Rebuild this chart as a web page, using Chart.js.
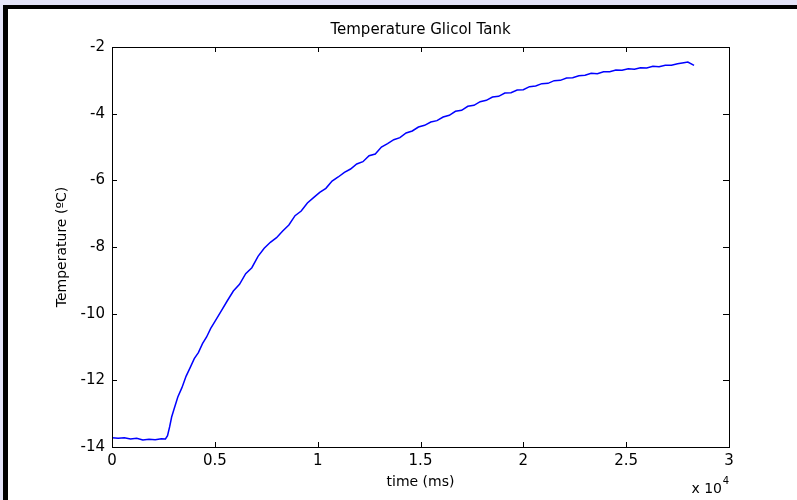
<!DOCTYPE html>
<html>
<head>
    <title>Temperature Glicol Tank</title>
    <meta charset="UTF-8">
    <style>
        body { margin: 0; padding: 0; background: #e4e4f8; width: 797px; height: 500px; overflow: hidden; position: relative; }
        #frame { position: absolute; left: 3px; top: 5px; right: 0; bottom: 0; background: #fff;
                 border-top: 4px solid #000; border-left: 5px solid #000; }
        #chart-container { position: absolute; left: 0; top: 0; width: 797px; height: 500px; }
    </style>
</head>
<body>
    <div id="frame"></div>
    <div id="chart-container">
        <canvas id="tankChart" width="797" height="500"></canvas>
    </div>

    <script src="https://cdn.jsdelivr.net/npm/chart.js"></script>
    <script>
        // values (time in ms, temperature in degC)
        const timeMs = [0, 300, 600, 900, 1200, 1500, 1800, 2100, 2400, 2600, 2700, 2800, 2900, 3000,
            3200, 3400, 3600, 3800, 4000, 4200, 4400, 4600, 4800, 5000, 5300, 5600, 5900, 6200, 6500,
            6800, 7100, 7400, 7700, 8000, 8300, 8600, 8900, 9200, 9500, 9800, 10100, 10400, 10700,
            11000, 11300, 11600, 11900, 12200, 12500, 12800, 13100, 13400, 13700, 14000, 14300, 14600,
            14900, 15200, 15500, 15800, 16100, 16400, 16700, 17000, 17300, 17600, 17900, 18200, 18500,
            18800, 19100, 19400, 19700, 20000, 20300, 20600, 20900, 21200, 21500, 21800, 22100, 22400,
            22700, 23000, 23300, 23600, 23900, 24200, 24500, 24800, 25100, 25400, 25700, 26000, 26300,
            26600, 26900, 27200, 27500, 27800, 28000, 28300];
        const tempC = [-13.72, -13.74, -13.72, -13.76, -13.74, -13.79, -13.77, -13.78, -13.75, -13.76,
            -13.66, -13.4, -13.1, -12.9, -12.5, -12.22, -11.88, -11.62, -11.35, -11.17, -10.9, -10.7,
            -10.44, -10.24, -9.93, -9.62, -9.32, -9.12, -8.8, -8.62, -8.28, -8.04, -7.86, -7.72, -7.52,
            -7.34, -7.06, -6.92, -6.68, -6.52, -6.36, -6.24, -6.02, -5.9, -5.76, -5.66, -5.51, -5.44,
            -5.26, -5.21, -5.0, -4.9, -4.78, -4.72, -4.58, -4.52, -4.4, -4.35, -4.25, -4.21, -4.1,
            -4.05, -3.93, -3.9, -3.78, -3.75, -3.64, -3.6, -3.5, -3.48, -3.38, -3.37, -3.29, -3.28,
            -3.19, -3.17, -3.1, -3.09, -3.01, -3.0, -2.93, -2.92, -2.86, -2.85, -2.79, -2.8, -2.74,
            -2.74, -2.69, -2.7, -2.65, -2.67, -2.62, -2.63, -2.58, -2.59, -2.55, -2.55, -2.5, -2.47,
            -2.45, -2.55];

        const xTicks = [0, 5000, 10000, 15000, 20000, 25000, 30000];
        const yTicks = [-14, -12, -10, -8, -6, -4, -2];

        const fontFamily = '"DejaVu Sans", sans-serif';

        // MATLAB style box with inward ticks and the x 10^4 exponent
        const matlabBox = {
            id: 'matlabBox',
            afterDraw(chart) {
                const { ctx, chartArea: a, scales } = chart;
                ctx.save();
                ctx.strokeStyle = '#000';
                ctx.lineWidth = 1;
                ctx.strokeRect(a.left + 0.5, a.top + 0.5, a.right - a.left, a.bottom - a.top);
                ctx.beginPath();
                xTicks.forEach(v => {
                    const px = Math.round(scales.x.getPixelForValue(v)) + 0.5;
                    ctx.moveTo(px, a.bottom); ctx.lineTo(px, a.bottom - 5);
                    ctx.moveTo(px, a.top); ctx.lineTo(px, a.top + 5);
                });
                yTicks.forEach(v => {
                    const py = Math.round(scales.y.getPixelForValue(v)) + 0.5;
                    ctx.moveTo(a.left, py); ctx.lineTo(a.left + 5, py);
                    ctx.moveTo(a.right, py); ctx.lineTo(a.right - 6, py);
                });
                ctx.stroke();

                ctx.fillStyle = '#000';
                ctx.textBaseline = 'alphabetic';
                ctx.textAlign = 'right';
                ctx.font = '14px ' + fontFamily;
                ctx.fillText('x 10', a.right - 7, 493);
                ctx.font = '10px ' + fontFamily;
                ctx.fillText('4', a.right, 484);
                ctx.restore();
            }
        };

        window.onload = function () {
            const ctx = document.getElementById('tankChart').getContext('2d');
            new Chart(ctx, {
                type: 'line',
                data: {
                    datasets: [{
                        label: 'Temperature',
                        data: timeMs.map((t, i) => ({ x: t, y: tempC[i] })),
                        borderColor: '#0000ff',
                        borderWidth: 1.5,
                        fill: false,
                        tension: 0,
                        pointRadius: 0
                    }]
                },
                options: {
                    responsive: false,
                    animation: false,
                    layout: { padding: { left: 0, right: 68, top: 0, bottom: 0 } },
                    plugins: {
                        legend: { display: false },
                        tooltip: { enabled: false },
                        title: {
                            display: true,
                            text: 'Temperature Glicol Tank',
                            color: '#000',
                            fullSize: false,
                            font: { family: fontFamily, size: 15, weight: 'normal' },
                            padding: { top: 21, bottom: 8 }
                        }
                    },
                    scales: {
                        x: {
                            type: 'linear',
                            min: 0,
                            max: 30000,
                            afterFit: s => { s.height = 53; },
                            afterBuildTicks: s => { s.ticks = xTicks.map(v => ({ value: v })); },
                            grid: { display: false, drawTicks: false },
                            border: { display: true, color: '#000', width: 1 },
                            ticks: {
                                color: '#000',
                                padding: 5,
                                maxRotation: 0,
                                font: { family: fontFamily, size: 15 },
                                callback: v => String(v / 10000)
                            },
                            title: {
                                display: true,
                                text: 'time (ms)',
                                color: '#000',
                                font: { family: fontFamily, size: 14 },
                                padding: { top: 0, bottom: 9 }
                            }
                        },
                        y: {
                            type: 'linear',
                            min: -14,
                            max: -2,
                            afterFit: s => { s.width = 112; },
                            afterBuildTicks: s => { s.ticks = yTicks.map(v => ({ value: v })); },
                            grid: { display: false, drawTicks: false },
                            border: { display: true, color: '#000', width: 1 },
                            ticks: {
                                color: '#000',
                                padding: 7,
                                font: { family: fontFamily, size: 15 }
                            },
                            title: {
                                display: true,
                                text: 'Temperature (ºC)',
                                color: '#000',
                                font: { family: fontFamily, size: 14 },
                                padding: { top: 54, bottom: 0 }
                            }
                        }
                    }
                },
                plugins: [matlabBox]
            });
        };
    </script>
</body>
</html>
